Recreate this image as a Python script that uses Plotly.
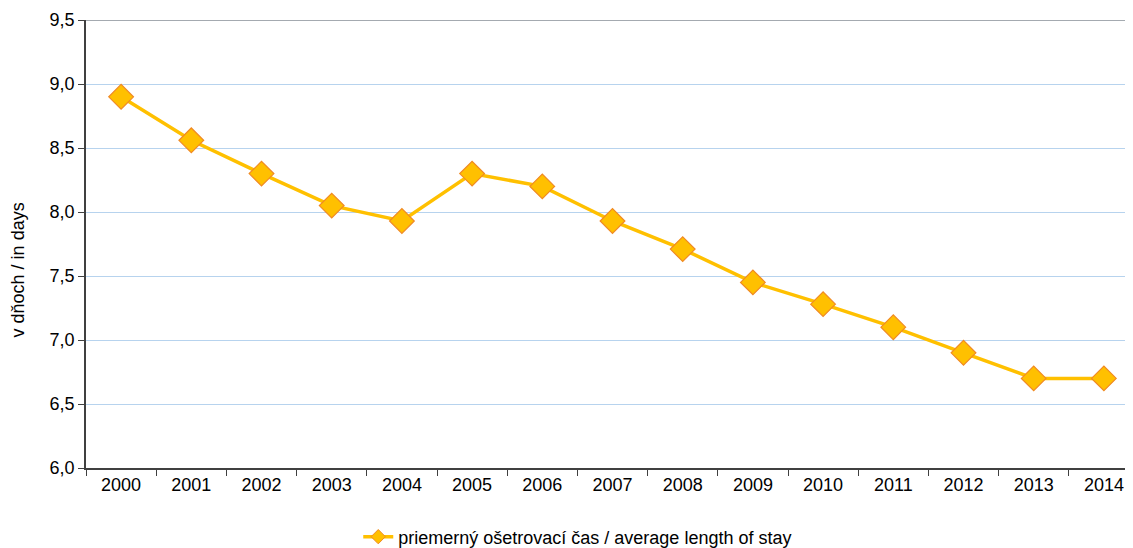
import plotly.graph_objects as go

years = ["2000", "2001", "2002", "2003", "2004", "2005", "2006", "2007",
         "2008", "2009", "2010", "2011", "2012", "2013", "2014"]
values = [8.9, 8.56, 8.3, 8.05, 7.93, 8.3, 8.2, 7.93, 7.71, 7.45, 7.28, 7.1, 6.9, 6.7, 6.7]
series_name = "priemerný ošetrovací čas / average length of stay"
y_title = "v dňoch / in days"

LINE = "#FFC000"
EDGE = "#F08A24"

fig = go.Figure()
fig.add_trace(go.Scatter(
    x=years, y=values, mode="lines+markers", name=series_name, showlegend=False,
    line=dict(color=LINE, width=3.5),
    marker=dict(symbol="diamond", size=19, color=LINE, line=dict(color=EDGE, width=1.2)),
))
# legend-only entry with a smaller marker, as in the reference legend
fig.add_trace(go.Scatter(
    x=[None], y=[None], mode="lines+markers", name=series_name, showlegend=True,
    line=dict(color=LINE, width=3.5),
    marker=dict(symbol="diamond", size=11, color=LINE, line=dict(color=EDGE, width=1)),
))

fig.add_shape(type="line", xref="paper", x0=0, x1=1, yref="y", y0=9.5, y1=9.5,
              line=dict(color="#868E96", width=1.5), layer="below")

fig.add_annotation(text=y_title, xref="paper", yref="paper", x=0, y=0.441,
                   xanchor="center", yanchor="middle", xshift=-68, textangle=-90,
                   showarrow=False, font=dict(size=18, color="#000000"))

fig.update_layout(
    width=1133, height=548,
    margin=dict(l=78, r=2, t=12, b=87),
    paper_bgcolor="white", plot_bgcolor="white",
    font=dict(family="Liberation Sans, Arial, sans-serif", size=18, color="#000000"),
    separators=",.",
    showlegend=True,
    legend=dict(orientation="h", x=0.467, xanchor="center", y=-0.1514, yanchor="middle",
                font=dict(size=18)),
    xaxis=dict(type="category", showgrid=False, showline=True, linecolor="#404040",
               linewidth=1.5, ticks="outside", tickson="boundaries", ticklen=6,
               tickcolor="#404040", range=[-0.5, 14.5], tickfont=dict(size=18)),
    yaxis=dict(range=[6.0, 9.5], dtick=0.5, tickformat=".1f", showgrid=True,
               gridcolor="#B7D3EE", gridwidth=1, showline=True, linecolor="#404040",
               linewidth=1.5, ticks="outside", ticklen=6, tickcolor="#404040",
               zeroline=False, tickfont=dict(size=18)),
)

fig.write_html("out.html")
